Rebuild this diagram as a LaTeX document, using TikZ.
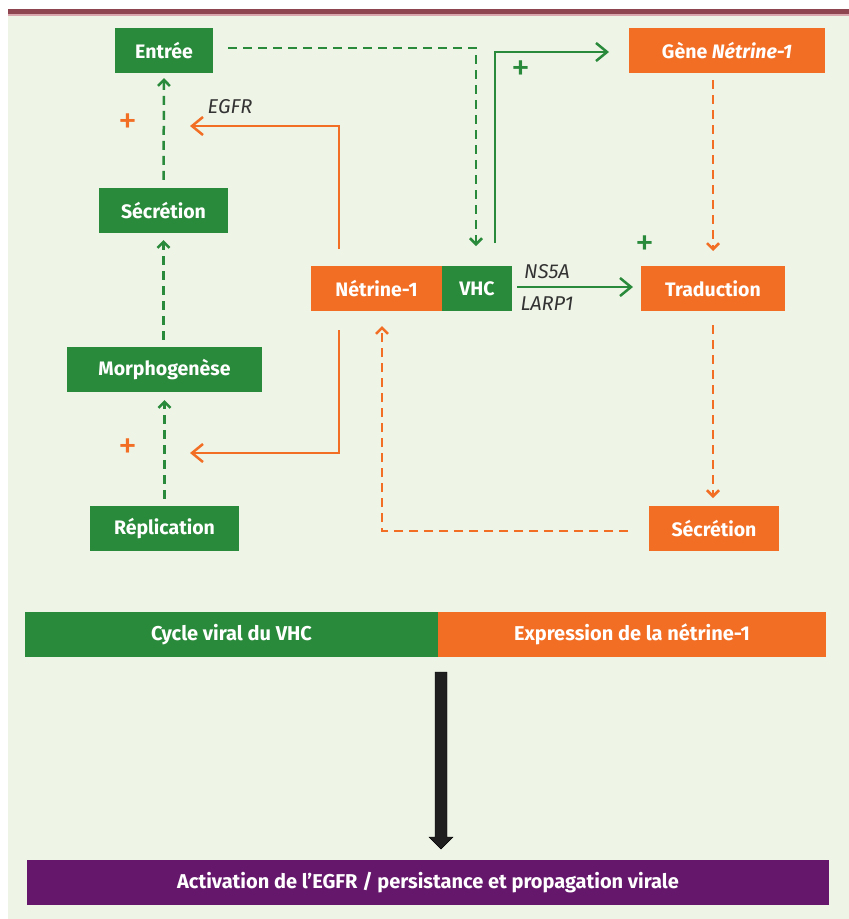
\documentclass[tikz,border=0pt]{standalone}
\usepackage{fontspec}
\setmainfont{Fira Sans}
\usetikzlibrary{arrows.meta}
\definecolor{vert}{HTML}{2A8A3B}
\definecolor{orng}{HTML}{F26E24}
\definecolor{purp}{HTML}{65186B}
\definecolor{maroon}{HTML}{8E4550}
\definecolor{pinkline}{HTML}{D9A6AE}
\definecolor{bgc}{HTML}{EEF4E6}
\definecolor{lbl}{HTML}{333333}
\begin{document}
\begin{tikzpicture}[x=1pt,y=-1pt,
  box/.style={draw=none, minimum height=45pt, inner sep=0pt, text=white, font=\fontsize{19.5}{22}\selectfont\bfseries},
  gbox/.style={box, fill=vert},
  obox/.style={box, fill=orng},
  solidarr/.style={line width=2.5pt, -{Straight Barb[length=11pt,width=18pt]}},
  dasharr/.style={line width=2.5pt, dash pattern=on 9pt off 6pt, -{Straight Barb[length=6pt,width=12pt]}},
  plus/.style={font=\fontsize{38}{38}\selectfont, inner sep=0pt},
  itl/.style={text=lbl, font=\fontsize{20}{20}\selectfont\itshape, inner sep=0pt}]
\useasboundingbox (0,0) rectangle (849,919);
\fill[white] (0,0) rectangle (849,919);
\fill[bgc] (8,15) rectangle (849,919);
\fill[maroon] (8,9) rectangle (849,14);
\fill[pinkline] (8,14) rectangle (849,15.5);

% boxes
\node[gbox, minimum width=98pt] (entree) at (164,50.5) {Entrée};
\node[obox, minimum width=196pt] (gene) at (727,50.5) {Gène \textit{Nétrine-1}};
\node[gbox, minimum width=129pt] (secL) at (163.5,210.5) {Sécrétion};
\node[obox, minimum width=131pt] (netr) at (376.5,288.5) {Nétrine-1};
\node[gbox, minimum width=70pt] (vhc) at (477,288.5) {VHC};
\node[obox, minimum width=144pt] (trad) at (713,288.5) {Traduction};
\node[gbox, minimum width=195pt] (morph) at (164.5,369.5) {Morphogenèse};
\node[gbox, minimum width=149pt] (repl) at (164.5,528.5) {Réplication};
\node[obox, minimum width=130pt] (secR) at (714,528.5) {Sécrétion};

\node[gbox, minimum width=413pt, font=\fontsize{20}{22}\selectfont\bfseries] (cycle) at (231.5,634.5) {Cycle viral du VHC};
\node[obox, minimum width=388pt, font=\fontsize{20}{22}\selectfont\bfseries] (expr) at (632,634.5) {Expression de la nétrine-1};
\node[box, fill=purp, minimum width=802pt, font=\fontsize{20}{22}\selectfont\bfseries] (activ) at (428,882.5) {Activation de l’EGFR / persistance et propagation virale};

% big black arrow
\fill[black!88, draw=black] (435,672) -- (447,672) -- (447,837) -- (453,837) -- (441,849) -- (429,837) -- (435,837) -- cycle;

% green dashed left column
\draw[vert, dasharr] ([yshift=7pt]repl.north) -- ([yshift=-8pt]morph.south);
\draw[vert, dasharr] ([yshift=7pt]morph.north -| secL.south) -- ([yshift=-7pt]secL.south);
\draw[vert, dasharr] ([yshift=8pt]secL.north) -- ([yshift=-5pt]entree.south);

% Entree -> VHC dashed
\coordinate (e1) at (228,48);
\coordinate (e2) at (476,48);
\coordinate (e3) at (476,246);
\draw[vert, dasharr] (e1) -- (e2) -- (e3);

% VHC -> gene solid
\coordinate (g1) at (495,243);
\coordinate (g2) at (495,52);
\coordinate (g3) at (609,52);
\draw[vert, solidarr] (g1) -- (g2) -- (g3);
\node[plus, text=vert] (p1) at (521,71) {+};

% VHC -> Traduction
\coordinate (t1) at (517,287);
\coordinate (t2) at (633,287);
\draw[vert, solidarr] (t1) -- (t2);
\node[itl] (ns5a) at (547,272) {NS5A};
\node[itl] (larp) at (547,304) {LARP1};
\node[plus, text=vert] (p2) at (645,246) {+};

% orange dashed right column
\coordinate (r1) at (713,80);
\coordinate (r2) at (713,251);
\coordinate (r3) at (713,325);
\coordinate (r4) at (713,498);
\draw[orng, dasharr] (r1) -- (r2);
\draw[orng, dasharr] (r3) -- (r4);
\coordinate (s1) at (628,531);
\coordinate (s2) at (382,531);
\coordinate (s3) at (382,326);
\draw[orng, dasharr] (s1) -- (s2) -- (s3);

% orange solid to left
\coordinate (o1) at (339,249);
\coordinate (o2) at (339,126);
\coordinate (o3) at (190,126);
\draw[orng, solidarr] (o1) -- (o2) -- (o3);
\node[itl] (egfr) at (230,107) {EGFR};
\node[plus, text=orng] (p3) at (128,124) {+};

\coordinate (q1) at (339,330);
\coordinate (q2) at (339,453);
\coordinate (q3) at (190,453);
\draw[orng, solidarr] (q1) -- (q2) -- (q3);
\node[plus, text=orng] (p4) at (128,449) {+};
\end{tikzpicture}
\end{document}
